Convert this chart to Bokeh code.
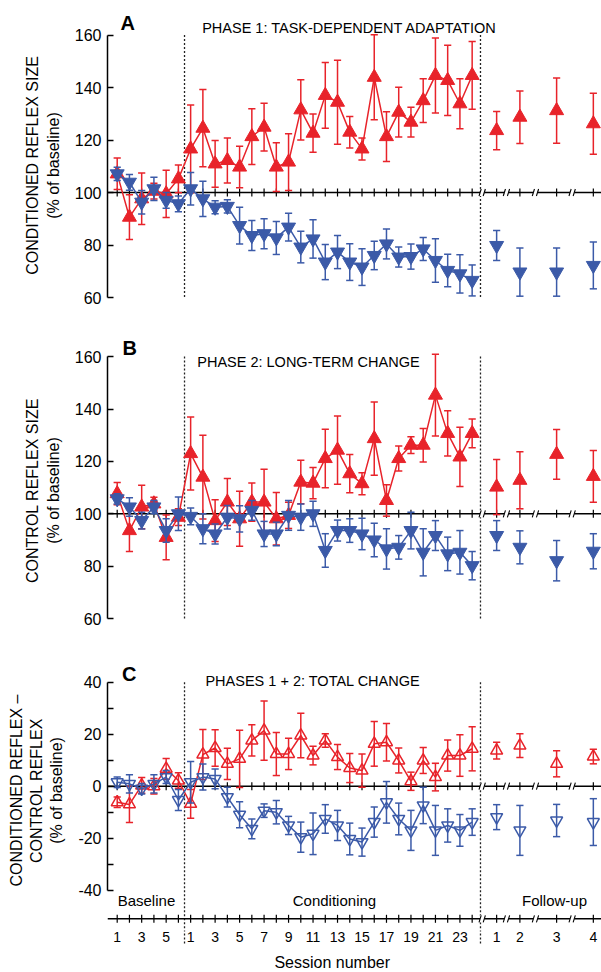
import numpy as np
from bokeh.plotting import figure
from bokeh.layouts import column
from bokeh.models import Range1d, FixedTicker
from bokeh.embed import file_html
from bokeh.resources import INLINE
from bokeh.core.properties import value

# ---------------- data ----------------
baseline_sessions = [1, 2, 3, 4, 5, 6]
conditioning_sessions = list(range(1, 25))
followup_sessions = [1, 2, 3, 4]

baseline_labels = ["1", "", "3", "", "5", ""]
conditioning_labels = [str(s) if s % 2 == 1 else "" for s in conditioning_sessions]
followup_labels = ["1", "2", "3", "4"]

# Panel A: conditioned reflex size (% of baseline)
a_up_base = [107.1, 90.6, 97.6, 100.5, 99.5, 105.2]
a_up_base_err = [6.0, 8.5, 9.8, 3.0, 9.0, 5.3]
a_up_cond = [116.6, 124.5, 110.9, 112.2, 109.7, 121.3, 124.9, 109.7, 111.6, 131.5,
             122.6, 137.0, 134.4, 123.0, 116.6, 143.9, 121.3, 130.6, 126.8, 135.0,
             144.6, 142.7, 133.8, 144.6]
a_up_cond_err = [16.7, 14.7, 8.9, 8.6, 7.9, 10.6, 9.1, 9.3, 10.8, 11.5,
                 7.3, 12.5, 16.0, 6.0, 4.2, 16.2, 9.5, 9.5, 5.7, 8.3,
                 14.3, 13.4, 9.5, 12.9]
a_up_fu = [123.6, 128.7, 131.2, 126.2]
a_up_fu_err = [7.3, 10.0, 12.4, 11.6]

a_dn_base = [107.1, 103.9, 96.3, 101.4, 97.0, 95.7]
a_dn_base_err = [2.5, 3.0, 4.5, 4.4, 3.0, 3.0]
a_dn_cond = [101.4, 97.6, 94.4, 94.7, 87.4, 83.6, 84.3, 82.7, 86.8, 79.2,
             82.3, 73.5, 77.3, 73.5, 71.6, 76.0, 80.4, 75.4, 75.6, 78.5,
             74.1, 70.3, 69.0, 66.5]
a_dn_cond_err = [6.2, 6.7, 2.5, 2.5, 7.0, 5.7, 5.7, 6.3, 5.3, 6.0,
                 7.3, 6.7, 6.3, 7.0, 7.0, 5.4, 5.7, 3.8, 4.8, 4.4,
                 8.3, 6.2, 7.3, 5.9]
a_dn_fu = [79.8, 69.7, 69.7, 72.2]
a_dn_fu_err = [5.7, 9.2, 9.2, 8.9]

# Panel B: control reflex size (% of baseline)
b_up_base = [107.7, 93.6, 102.6, 103.8, 91.0, 98.7]
b_up_base_err = [4.2, 8.0, 8.3, 2.5, 8.5, 3.2]
b_up_cond = [123.0, 114.0, 97.4, 104.5, 98.1, 104.5, 104.5, 98.1, 99.4, 112.1,
             111.7, 121.1, 124.3, 115.3, 111.5, 128.7, 105.1, 121.1, 126.2, 126.2,
             145.3, 130.7, 121.7, 130.7]
b_up_cond_err = [13.9, 16.0, 8.0, 9.0, 10.5, 7.3, 12.5, 10.0, 5.0, 8.3,
                 6.0, 11.2, 13.0, 7.3, 4.2, 14.0, 6.0, 4.8, 3.2, 6.4,
                 15.6, 8.6, 11.3, 5.5]
b_up_fu = [110.2, 112.8, 122.7, 114.3]
b_up_fu_err = [10.5, 10.9, 9.5, 9.9]

b_dn_base = [105.7, 102.6, 97.4, 102.6, 93.6, 100.0]
b_dn_base_err = [2.0, 3.5, 3.2, 2.5, 4.5, 6.4]
b_dn_cond = [99.0, 94.3, 92.3, 98.7, 98.1, 101.3, 92.3, 92.3, 99.4, 98.7,
             100.0, 86.0, 93.6, 93.6, 92.3, 90.0, 86.6, 87.2, 93.6, 85.3,
             91.7, 84.7, 85.3, 80.2]
b_dn_cond_err = [3.2, 5.7, 3.8, 4.5, 5.0, 3.8, 4.8, 4.5, 5.7, 5.0,
                 4.8, 6.4, 4.0, 4.5, 6.0, 6.4, 7.7, 4.5, 7.0, 9.0,
                 5.7, 6.4, 8.3, 5.4]
b_dn_fu = [91.7, 87.2, 82.1, 85.7]
b_dn_fu_err = [5.7, 6.3, 7.7, 6.7]

# Panel C: conditioned - control (% of baseline)
c_up_base = [-6.2, -7.0, 0.3, 0.0, 6.7, 2.2]
c_up_base_err = [2.0, 7.0, 3.0, 3.0, 4.0, 3.0]
c_up_cond = [-6.8, 12.2, 14.7, 8.6, 10.5, 17.6, 21.4, 12.4, 12.4, 19.5,
             11.8, 17.6, 11.2, 7.0, 6.0, 16.3, 16.9, 9.9, 1.9, 9.9,
             3.5, 11.8, 11.8, 14.4]
c_up_cond_err = [5.5, 9.6, 7.0, 6.0, 11.0, 6.0, 11.4, 8.3, 6.0, 8.6,
                 3.6, 2.6, 4.8, 5.6, 6.4, 8.6, 7.2, 4.8, 3.5, 5.0,
                 5.3, 6.0, 8.0, 8.5]
c_up_fu = [13.7, 15.6, 8.6, 11.4]
c_up_fu_err = [3.2, 4.6, 5.0, 2.8]

c_dn_base = [1.5, 0.9, -1.0, 0.9, 3.5, -5.3]
c_dn_base_err = [2.0, 3.5, 2.0, 3.5, 2.5, 4.0]
c_dn_cond = [1.5, 3.5, 2.8, -4.2, -11.0, -16.4, -9.4, -10.0, -15.1, -19.6,
             -18.3, -12.6, -15.1, -20.3, -21.5, -13.8, -6.2, -12.6, -17.0, -7.4,
             -17.0, -15.1, -17.0, -13.8]
c_dn_cond_err = [8.0, 5.0, 3.8, 3.8, 5.0, 3.8, 2.6, 4.5, 3.5, 5.8,
                 8.0, 5.5, 5.8, 6.1, 5.4, 5.8, 8.0, 6.1, 7.7, 7.0,
                 9.6, 6.4, 6.1, 5.1]
c_dn_fu = [-11.9, -17.0, -13.2, -13.8]
c_dn_fu_err = [4.8, 9.6, 6.2, 9.0]

# ---------------- layout / style ----------------
RED = "#e8232a"
BLUE = "#3b5aa8"
FONT = "Liberation Sans"
PX = 12.24                      # px per session slot
X0, X1 = 0.2075, 40.567
FU_POS = [32.0, 33.9, 36.9, 39.9]
BREAKS = [30.82, 32.8, 35.17, 38.17]
DIVIDERS = [6.5, 30.68]

base_x = list(np.array(baseline_sessions, dtype=float))
cond_x = list(6.0 + np.array(conditioning_sessions, dtype=float))
all_tick_x = base_x + cond_x + FU_POS


def make_fig(height, y0, y1, show_y=True):
    p = figure(width=601, height=height, x_range=Range1d(X0, X1), y_range=Range1d(y0, y1),
               output_backend="svg", toolbar_location=None, x_axis_location=None,
               y_axis_location="left" if show_y else None,
               min_border_left=107, min_border_right=0, min_border_top=0, min_border_bottom=0)
    p.grid.visible = False
    p.outline_line_color = None
    p.background_fill_color = "white"
    p.border_fill_color = "white"
    return p


def style_yaxis(p, ticks, bounds, label, overrides=None):
    ax = p.yaxis[0]
    ax.bounds = bounds
    ax.ticker = FixedTicker(ticks=ticks)
    if overrides:
        ax.major_label_overrides = overrides
    ax.major_tick_in = 6
    ax.major_tick_out = 0
    ax.minor_tick_line_color = None
    ax.axis_line_width = 1.5
    ax.major_tick_line_width = 1.5
    ax.major_label_text_font = FONT
    ax.major_label_text_font_size = "16px"
    ax.major_label_text_color = "black"
    ax.major_label_standoff = 6
    ax.axis_label = label
    ax.axis_label_text_font = FONT
    ax.axis_label_text_font_size = "16px"
    ax.axis_label_text_font_style = "normal"
    ax.axis_label_text_color = "black"
    ax.axis_label_standoff = 10


def axis_line_with_ticks(p, yline, upp):
    """horizontal line with crossing ticks and axis breaks; upp = data units per pixel (y)"""
    p.segment(x0=[X0], y0=[yline], x1=[X1], y1=[yline], line_color="black", line_width=1.5)
    t = 4 * upp
    p.segment(x0=all_tick_x, y0=[yline - t] * len(all_tick_x), x1=all_tick_x,
              y1=[yline + t] * len(all_tick_x), line_color="black", line_width=1.2)
    p.rect(x=BREAKS, y=[yline] * len(BREAKS), width=0.36, height=7 * upp,
           fill_color="white", line_color=None)
    xs0, ys0, xs1, ys1 = [], [], [], []
    for b in BREAKS:
        for dx in (-0.17, 0.17):
            xs0.append(b + dx - 0.09)
            xs1.append(b + dx + 0.09)
            ys0.append(yline - 3.5 * upp)
            ys1.append(yline + 3.5 * upp)
    p.segment(x0=xs0, y0=ys0, x1=xs1, y1=ys1, line_color="black", line_width=1.1)


def dividers(p, ytop, ybot):
    n = len(DIVIDERS)
    p.segment(x0=DIVIDERS, y0=[ytop] * n, x1=DIVIDERS, y1=[ybot] * n,
              line_color="#222222", line_width=1.3, line_dash="2 2")


def series(p, yb, eb, yc, ec, yf, ef, color, marker, filled, size):
    xm = base_x + cond_x
    ym = list(yb) + list(yc)
    p.line(xm, ym, line_color=color, line_width=1.5)
    xa = np.array(xm + FU_POS)
    ya = np.array(ym + list(yf))
    ea = np.array(list(eb) + list(ec) + list(ef))
    lo, hi = ya - ea, ya + ea
    cap = 3.6 / PX
    p.segment(x0=xa, y0=lo, x1=xa, y1=hi, line_color=color, line_width=1.5)
    p.segment(x0=xa - cap, y0=lo, x1=xa + cap, y1=lo, line_color=color, line_width=1.5)
    p.segment(x0=xa - cap, y0=hi, x1=xa + cap, y1=hi, line_color=color, line_width=1.5)
    if filled:
        p.scatter(xa, ya, marker=marker, size=size, fill_color=color, line_color=color)
    else:
        p.scatter(xa, ya, marker=marker, size=size, fill_color=None, line_color=color,
                  line_width=1.5)


def txt(p, x, y, s, size, align="left", bold=False):
    p.text(x=[x], y=[y], text=[s], text_font=value(FONT), text_font_size=size,
           text_align=align, text_baseline="middle", text_color="black",
           text_font_style="bold" if bold else "normal")


# ---------------- Panel A ----------------
upA = 1 / 2.625
pA = make_fig(330, 100 - (330 - 192) * upA, 100 + 192 * upA)
style_yaxis(pA, [60, 80, 100, 120, 140, 160], (60, 160),
            "CONDITIONED REFLEX SIZE\n(% of baseline)")
dividers(pA, 160, 60)
axis_line_with_ticks(pA, 100, upA)
series(pA, a_up_base, a_up_base_err, a_up_cond, a_up_cond_err, a_up_fu, a_up_fu_err,
       RED, "triangle", True, 14)
series(pA, a_dn_base, a_dn_base_err, a_dn_cond, a_dn_cond_err, a_dn_fu, a_dn_fu_err,
       BLUE, "inverted_triangle", True, 14)
txt(pA, 1.27, 164.4, "A", "20px", bold=True)
txt(pA, 7.94, 162.5, "PHASE 1: TASK-DEPENDENT ADAPTATION", "14.5px")

# ---------------- Panel B ----------------
upB = 1 / 2.62
pB = make_fig(320, 100 - (320 - 183.3) * upB, 100 + 183.3 * upB)
style_yaxis(pB, [60, 80, 100, 120, 140, 160], (60, 160),
            "CONTROL REFLEX SIZE\n(% of baseline)")
dividers(pB, 160, 60)
axis_line_with_ticks(pB, 100, upB)
series(pB, b_up_base, b_up_base_err, b_up_cond, b_up_cond_err, b_up_fu, b_up_fu_err,
       RED, "triangle", True, 14)
series(pB, b_dn_base, b_dn_base_err, b_dn_cond, b_dn_cond_err, b_dn_fu, b_dn_fu_err,
       BLUE, "inverted_triangle", True, 14)
txt(pB, 1.43, 163.3, "B", "20px", bold=True)
txt(pB, 7.54, 157.9, "PHASE 2: LONG-TERM CHANGE", "14.5px")

# ---------------- Panel C ----------------
upC = 1 / 2.6
pC = make_fig(280, -(280 - 135.7) * upC, 135.7 * upC)
style_yaxis(pC, [-40, -30, -20, -10, 0, 10, 20, 30, 40], (-40, 40),
            "CONDITIONED REFLEX \u2013\nCONTROL REFLEX\n(% of baseline)",
            overrides={-40: "-40", -30: "", -20: "-20", -10: "", 0: "0",
                       10: "", 20: "20", 30: "", 40: "40"})
session_axis_y = -(268.3 - 135.7) * upC
dividers(pC, 40, -(280 - 135.7) * upC - 1)
axis_line_with_ticks(pC, 0, upC)
axis_line_with_ticks(pC, session_axis_y, upC)
series(pC, c_up_base, c_up_base_err, c_up_cond, c_up_cond_err, c_up_fu, c_up_fu_err,
       RED, "triangle", False, 12)
series(pC, c_dn_base, c_dn_base_err, c_dn_cond, c_dn_cond_err, c_dn_fu, c_dn_fu_err,
       BLUE, "inverted_triangle", False, 12)
txt(pC, 1.4, 43.3, "C", "20px", bold=True)
txt(pC, 8.21, 40.65, "PHASES 1 + 2: TOTAL CHANGE", "14.5px")
phase_y = -(250 - 135.7) * upC
txt(pC, 3.39, phase_y, "Baseline", "15px", align="center")
txt(pC, 18.75, phase_y, "Conditioning", "15px", align="center")
txt(pC, 36.73, phase_y, "Follow-up", "15px", align="center")

# ---------------- Session tick labels ----------------
pD = make_fig(42, 0, 42, show_y=False)
dividers(pD, 43, 29)
lab_x = base_x + cond_x + FU_POS
lab_t = baseline_labels + conditioning_labels + followup_labels
keep = [(x, t) for x, t in zip(lab_x, lab_t) if t]
pD.text(x=[k[0] for k in keep], y=[35.3] * len(keep), text=[k[1] for k in keep],
        text_font=value(FONT), text_font_size="14px", text_align="center",
        text_baseline="middle", text_color="black")
txt(pD, 18.57, 10, "Session number", "16px", align="center")

layout = column(pA, pB, pC, pD, spacing=0)
open("out.html", "w").write(file_html(layout, INLINE))
